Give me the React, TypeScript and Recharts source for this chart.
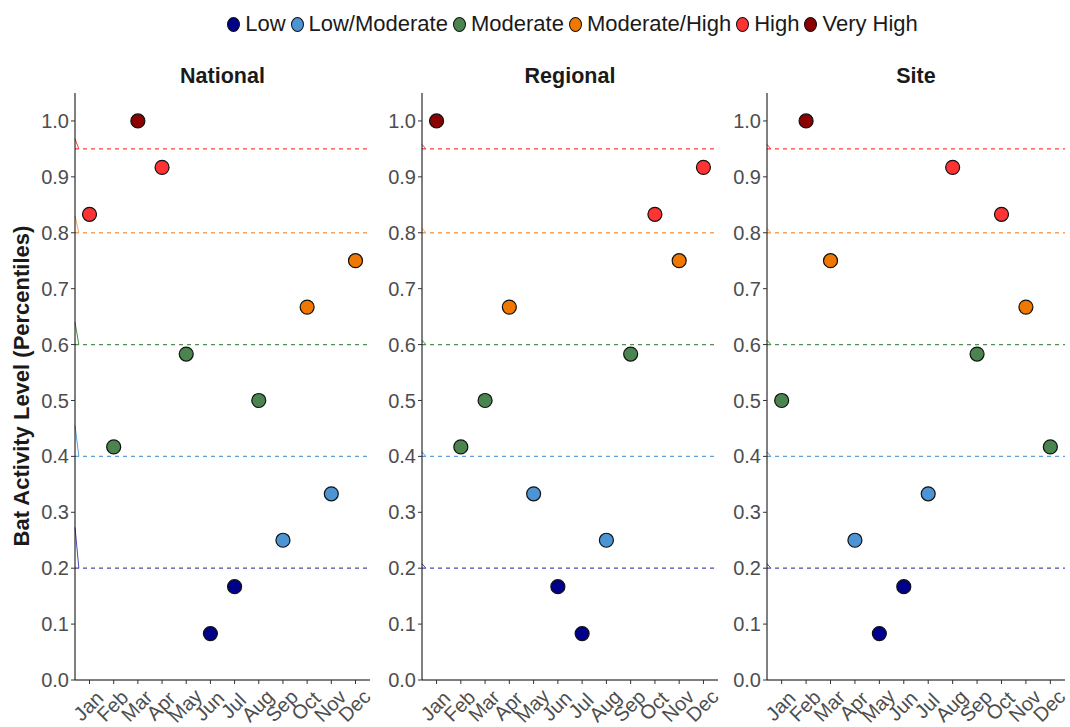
import React from "react";
import {
  ScatterChart,
  Scatter,
  XAxis,
  YAxis,
  ReferenceLine,
  Cell,
} from "recharts";

const MONTHS = ["Jan", "Feb", "Mar", "Apr", "May", "Jun", "Jul", "Aug", "Sep", "Oct", "Nov", "Dec"];

const NATIONAL = [0.833, 0.417, 1.0, 0.917, 0.583, 0.083, 0.167, 0.5, 0.25, 0.667, 0.333, 0.75];
const REGIONAL = [1.0, 0.417, 0.5, 0.667, 0.333, 0.167, 0.083, 0.25, 0.583, 0.833, 0.75, 0.917];
const SITE = [0.5, 1.0, 0.75, 0.25, 0.083, 0.167, 0.333, 0.917, 0.583, 0.833, 0.667, 0.417];

const LEVELS = ["Low", "Low/Moderate", "Moderate", "Moderate/High", "High", "Very High"];
const LEVEL_COLORS = ["#00008b", "#4c94d4", "#4a8550", "#f07800", "#ff3333", "#8b0000"];

// upper bound of each level (Very High has none)
const CUTOFFS = [0.2, 0.4, 0.6, 0.8, 0.95];
const CUTOFF_COLORS = ["#4b4bb5", "#62a0da", "#4f8f4f", "#f4a460", "#ff3b3b"];

// little slanted stubs at the left edge of each panel (start value at left edge)
const STUB_NATIONAL = [0.273, 0.455, 0.64, 0.83, 0.968];
const STUB_SMALL = [0.208, 0.408, 0.608, 0.808, 0.958];

const Y_TICKS = [0, 0.1, 0.2, 0.3, 0.4, 0.5, 0.6, 0.7, 0.8, 0.9, 1.0];
const X_TICKS = [1, 2, 3, 4, 5, 6, 7, 8, 9, 10, 11, 12];

const FONT = "'Liberation Sans', Arial, Helvetica, sans-serif";

function levelIndex(v: number): number {
  for (let i = 0; i < CUTOFFS.length; i++) {
    if (v < CUTOFFS[i]) return i;
  }
  return CUTOFFS.length;
}

function MonthTick(props: any) {
  const { x, y, payload } = props;
  const cy = y + 21;
  return (
    <text
      x={x}
      y={cy}
      textAnchor="middle"
      dominantBaseline="middle"
      transform={`rotate(-45, ${x}, ${cy})`}
      fontSize={20}
      fill="#4d4d4d"
      fontFamily={FONT}
    >
      {MONTHS[payload.value - 1]}
    </text>
  );
}

const Dot = (props: any) => {
  const { cx, cy, fill } = props;
  return <circle cx={cx} cy={cy} r={7} fill={fill} stroke="#111" strokeWidth={1.2} />;
};

interface PanelProps {
  title: string;
  values: number[];
  stubs: number[];
  left: number;
  width: number;
}

function Panel({ title, values, stubs, left, width }: PanelProps) {
  const data = values.map((v, i) => ({ m: i + 1, v }));
  return (
    <div style={{ position: "absolute", left, top: 0 }}>
      <div
        style={{
          position: "absolute",
          left: 45,
          width: width - 50,
          top: 64,
          textAlign: "center",
          fontWeight: "bold",
          fontSize: 21.5,
          color: "#1a1a1a",
        }}
      >
        {title}
      </div>
      <ScatterChart width={width} height={727} margin={{ top: 93, right: 5, bottom: 0, left: 0 }}>
        <XAxis
          type="number"
          dataKey="m"
          domain={[0.4, 12.6]}
          ticks={X_TICKS}
          interval={0}
          height={47}
          tick={<MonthTick />}
          tickSize={4}
          stroke="#000"
          tickLine={{ stroke: "#333" }}
          allowDataOverflow
        />
        <YAxis
          type="number"
          dataKey="v"
          domain={[0, 1.05]}
          ticks={Y_TICKS}
          width={45}
          tickFormatter={(t: number) => t.toFixed(1)}
          tick={{ fontSize: 20, fill: "#4d4d4d", fontFamily: FONT }}
          tickSize={4}
          tickMargin={2}
          stroke="#000"
          tickLine={{ stroke: "#333" }}
          allowDataOverflow
        />
        {CUTOFFS.map((c, i) => (
          <ReferenceLine
            key={`h${i}`}
            y={c}
            stroke={CUTOFF_COLORS[i]}
            strokeDasharray="4 4"
            strokeWidth={1.3}
          />
        ))}
        {CUTOFFS.map((c, i) => (
          <ReferenceLine
            key={`s${i}`}
            segment={[
              { x: 0.4, y: stubs[i] },
              { x: 0.56, y: c },
            ]}
            stroke={CUTOFF_COLORS[i]}
            strokeWidth={1}
            ifOverflow="visible"
          />
        ))}
        <Scatter data={data} shape={Dot} isAnimationActive={false}>
          {data.map((d, i) => (
            <Cell key={i} fill={LEVEL_COLORS[levelIndex(d.v)]} />
          ))}
        </Scatter>
      </ScatterChart>
    </div>
  );
}

export default function App() {
  return (
    <div
      style={{
        position: "absolute",
        left: 0,
        top: 0,
        width: 1070,
        height: 727,
        background: "#fff",
        fontFamily: FONT,
        overflow: "hidden",
      }}
    >
      <div
        style={{
          position: "absolute",
          left: 75,
          width: 1000,
          top: 11,
          display: "flex",
          justifyContent: "center",
          alignItems: "center",
          fontSize: 22,
          color: "#1a1a1a",
        }}
      >
        {LEVELS.map((l, i) => (
          <div key={l} style={{ display: "flex", alignItems: "center", marginRight: 5 }}>
            <span
              style={{
                display: "inline-block",
                width: 13,
                height: 15,
                borderRadius: "50%",
                background: LEVEL_COLORS[i],
                border: "1px solid #111",
                marginRight: 5,
                boxSizing: "border-box",
              }}
            />
            <span>{l}</span>
          </div>
        ))}
      </div>
      <div
        style={{
          position: "absolute",
          left: 22,
          top: 386,
          transform: "translate(-50%, -50%) rotate(-90deg)",
          whiteSpace: "nowrap",
          fontWeight: "bold",
          fontSize: 22,
          color: "#1a1a1a",
        }}
      >
        Bat Activity Level (Percentiles)
      </div>
      <Panel title="National" values={NATIONAL} stubs={STUB_NATIONAL} left={30} width={345} />
      <Panel title="Regional" values={REGIONAL} stubs={STUB_SMALL} left={377} width={346} />
      <Panel title="Site" values={SITE} stubs={STUB_SMALL} left={722} width={348} />
    </div>
  );
}
